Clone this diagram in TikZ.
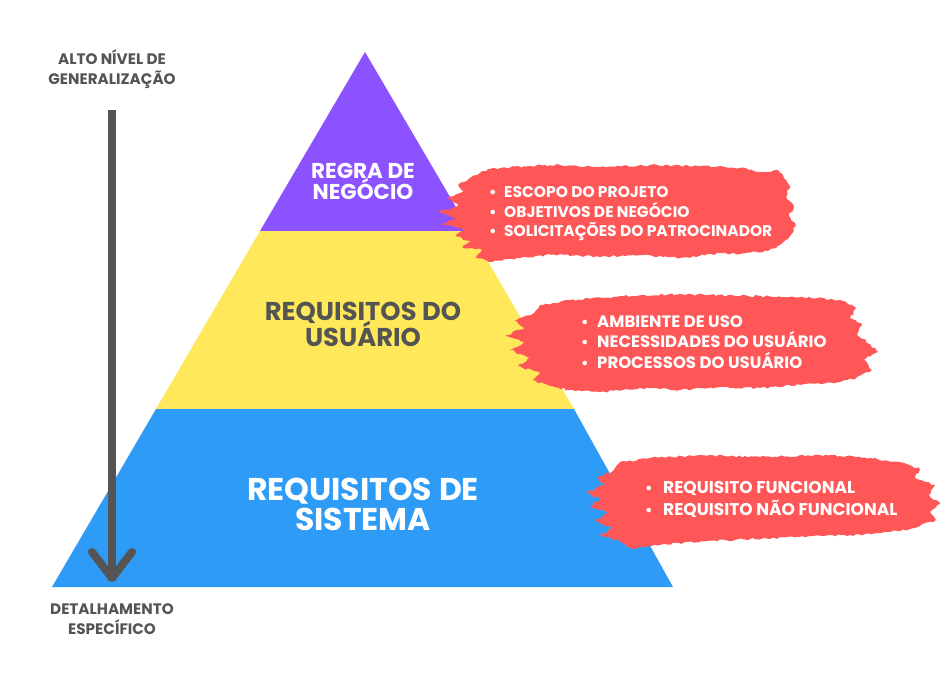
\documentclass[tikz,border=0pt]{standalone}
\usepackage{fontspec}
\setmainfont{Poppins}
\usetikzlibrary{decorations.pathmorphing}
\definecolor{pur}{HTML}{8C52FF}
\definecolor{yel}{HTML}{FFE95B}
\definecolor{blu}{HTML}{2E9BF7}
\definecolor{brush}{HTML}{FF5757}
\definecolor{dgray}{HTML}{545454}
\tikzset{
  brushfill/.style={fill=brush, draw=none, decorate, decoration={random steps, segment length=3pt, amplitude=1.2pt}},
  bigtitle/.style={anchor=base, inner sep=0, font=\bfseries\fontsize{31.5}{31.5}\selectfont, text=white},
  midtitle/.style={anchor=base, inner sep=0, font=\bfseries\fontsize{25.8}{25.8}\selectfont, text=dgray},
  toptitle/.style={anchor=base, inner sep=0, font=\bfseries\fontsize{21.5}{21.5}\selectfont, text=white},
  itemA/.style={anchor=base west, inner sep=0, font=\bfseries\fontsize{15.5}{15.5}\selectfont, text=white},
  itemB/.style={anchor=base west, inner sep=0, font=\bfseries\fontsize{16.5}{16.5}\selectfont, text=white},
  itemC/.style={anchor=base west, inner sep=0, font=\bfseries\fontsize{17}{17}\selectfont, text=white},
  dot/.style={anchor=base, inner sep=0, font=\bfseries\fontsize{15}{15}\selectfont, text=white},
  sidelabel/.style={anchor=base, inner sep=0, font=\bfseries\fontsize{15.2}{15.2}\selectfont, text=dgray},
  arrowline/.style={draw=dgray, line width=8pt}
}
\begin{document}
\begin{tikzpicture}[x=1pt,y=-1pt]
\useasboundingbox (0,0) rectangle (940,688);
\fill[white] (0,0) rectangle (940,688);
% pyramid
\fill[pur] (365,52) -- (470,231) -- (260,231) -- cycle;
\fill[yel] (260,231) -- (470,231) -- (574,409) -- (156,409) -- cycle;
\fill[blu] (156,409) -- (574,409) -- (673,587) -- (52,587) -- cycle;
% brush 1
\path[brushfill] (470,178) -- (482,171) -- (500,168) -- (530,166) -- (560,165) -- (600,167) -- (650,165) -- (700,166) -- (740,168) -- (762,172) -- (778,170) -- (784,178) -- (790,186) -- (786,196) -- (794,206) -- (789,216) -- (796,226) -- (790,236) -- (780,245) -- (768,251) -- (740,254) -- (720,253) -- (680,258) -- (640,255) -- (600,257) -- (560,254) -- (520,258) -- (492,262) -- (476,258) -- (482,250) -- (462,247) -- (472,242) -- (456,236) -- (464,230) -- (442,224) -- (456,218) -- (438,212) -- (458,206) -- (448,198) -- (464,192) -- (458,185) -- cycle;
% brush 2
\path[brushfill] (540,305) -- (570,300) -- (620,296) -- (680,294) -- (740,296) -- (800,297) -- (840,300) -- (856,308) -- (850,318) -- (862,325) -- (857,335) -- (870,344) -- (878,352) -- (864,360) -- (872,370) -- (856,378) -- (840,382) -- (800,385) -- (760,388) -- (720,387) -- (680,390) -- (640,388) -- (600,392) -- (570,390) -- (550,386) -- (532,380) -- (540,373) -- (518,366) -- (530,358) -- (510,350) -- (524,342) -- (505,336) -- (524,328) -- (514,320) -- (534,313) -- cycle;
% brush 3
\path[brushfill] (620,462) -- (650,458) -- (700,455) -- (760,457) -- (820,455) -- (870,458) -- (900,462) -- (920,469) -- (915,478) -- (935,485) -- (929,495) -- (940,504) -- (930,512) -- (936,520) -- (915,528) -- (890,532) -- (850,535) -- (800,537) -- (750,539) -- (700,542) -- (660,545) -- (632,549) -- (620,541) -- (600,536) -- (612,528) -- (595,521) -- (608,513) -- (590,506) -- (600,499) -- (586,492) -- (605,485) -- (597,478) -- (614,470) -- cycle;
% arrow
\coordinate (arrtop) at (112,110);
\coordinate (arrtip) at (112,578);
\coordinate (armL) at (92,552);
\coordinate (armR) at (132,552);
\draw[arrowline] (arrtop) -- ([yshift=-3]arrtip);
\draw[arrowline, line cap=round, line join=round] (armL) -- (arrtip) -- (armR);
% titles
\node[toptitle] (t1a) at (363,178) {REGRA DE};
\node[toptitle] (t1b) at (363,199) {NEGÓCIO};
\node[midtitle] (t2a) at (363,320) {REQUISITOS DO};
\node[midtitle] (t2b) at (363,346) {USUÁRIO};
\node[bigtitle] (t3a) at (363,500) {REQUISITOS DE};
\node[bigtitle] (t3b) at (363,530) {SISTEMA};
% side labels
\node[sidelabel] (l1a) at (112,64) {ALTO NÍVEL DE};
\node[sidelabel] (l1b) at (112,84) {GENERALIZAÇÃO};
\node[sidelabel] (l2a) at (112,614) {DETALHAMENTO};
\node[sidelabel] (l2b) at (112,634) {ESPECÍFICO};
% brush 1 items
\node[dot] (d11) at (493,197) {•};
\node[itemA] (i11) at (504,197) {ESCOPO DO PROJETO};
\node[dot] (d12) at (493,217) {•};
\node[itemA] (i12) at (504,217) {OBJETIVOS DE NEGÓCIO};
\node[dot] (d13) at (493,236) {•};
\node[itemA] (i13) at (504,236) {SOLICITAÇÕES DO PATROCINADOR};
% brush 2 items
\node[dot] (d21) at (585,327) {•};
\node[itemB] (i21) at (597,327) {AMBIENTE DE USO};
\node[dot] (d22) at (585,347) {•};
\node[itemB] (i22) at (597,347) {NECESSIDADES DO USUÁRIO};
\node[dot] (d23) at (585,368) {•};
\node[itemB] (i23) at (597,368) {PROCESSOS DO USUÁRIO};
% brush 3 items
\node[dot] (d31) at (649,493) {•};
\node[itemC] (i31) at (663,493) {REQUISITO FUNCIONAL};
\node[dot] (d32) at (649,515) {•};
\node[itemC] (i32) at (663,515) {REQUISITO NÃO FUNCIONAL};
\end{tikzpicture}
\end{document}
